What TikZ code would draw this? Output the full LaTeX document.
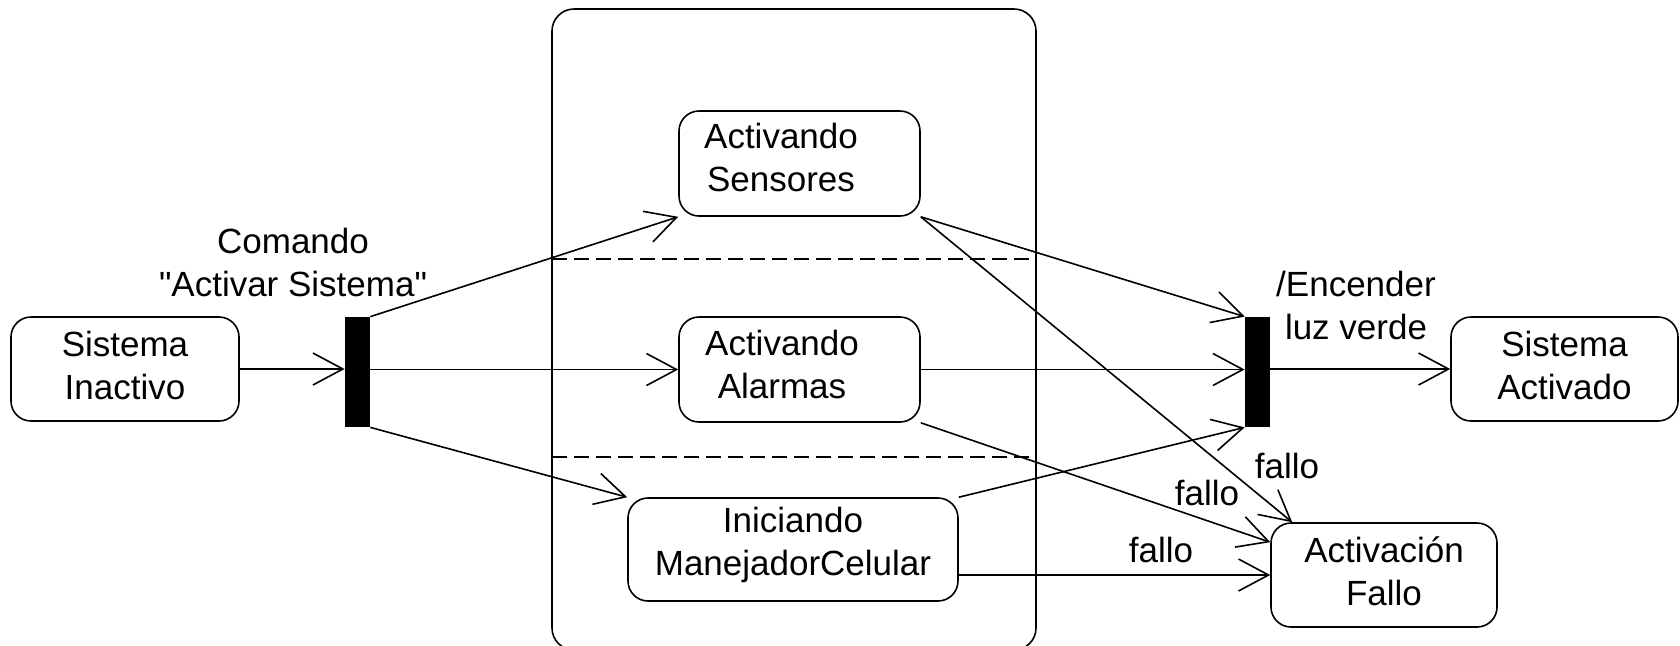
\documentclass[tikz,border=0pt]{standalone}
\usepackage{fontspec}
\setmainfont{Liberation Sans}[Ligatures=TeXOff]
\usetikzlibrary{arrows.meta,calc}
\tikzset{
  base/.style={line width=0.8pt},
  statebox/.style={base, draw, rounded corners=10pt, inner sep=0pt, align=center,
    font=\fontsize{17.5pt}{21.5pt}\selectfont, text depth=4pt},
  emptybox/.style={base, draw, rounded corners=10pt, inner sep=0pt},
  txt/.style={inner sep=0pt, align=center, font=\fontsize{17.5pt}{21.5pt}\selectfont},
  bar/.style={fill=black, draw=none, inner sep=0pt, minimum width=12.5pt, minimum height=55pt},
  arr/.style={base, -{Straight Barb[length=15pt, width=16pt, line width=0.8pt]}},
  sep/.style={base, dash pattern=on 7.5pt off 3.5pt},
}
\begin{document}
\begin{tikzpicture}[x=0.5pt, y=-0.5pt]
\useasboundingbox (0,0) rectangle (1680,645);
% container
\draw[base, rounded corners=11pt] (552,9) rectangle (1036,650);
\draw[sep] (552,259) -- (1032,259);
\draw[sep] (552,457) -- (1032,457);
% states
\node[statebox, minimum width=114pt, minimum height=52pt] (inact) at (125,369) {Sistema\\Inactivo};
\node[emptybox, minimum width=120.5pt, minimum height=52.5pt] (sens) at (799.5,163.5) {};
\node[txt] (sensT) at ($(sens.center)+(-18.5,-6.5)$) {Activando\\Sensores};
\node[emptybox, minimum width=120.5pt, minimum height=52.5pt] (alarm) at (799.5,369.5) {};
\node[txt] (alarmT) at ($(alarm.center)+(-17.5,-5.5)$) {Activando\\Alarmas};
\node[statebox, minimum width=165pt, minimum height=51.5pt, text depth=8pt] (inic) at (793,549.5) {Iniciando\\ManejadorCelular};
\node[statebox, minimum width=113.5pt, minimum height=52pt] (activ) at (1564.5,369) {Sistema\\Activado};
\node[statebox, minimum width=113pt, minimum height=52pt] (fallo) at (1384,575) {Activación\\Fallo};
% bars
\node[bar] (bar1) at (357.5,372) {};
\node[bar] (bar2) at (1257.5,372) {};
% connectors
\draw[arr] (inact.east) -- (inact.east -| bar1.west);
\draw[arr] (bar1.north east) -- (sens.south west);
\draw[arr] (bar1.east |- alarm.west) -- (alarm.west);
\draw[arr] (bar1.south east) -- (inic.north west);
\draw[arr] (sens.south east) -- (bar2.north west);
\draw[arr] (alarm.east) -- (alarm.east -| bar2.west);
\draw[arr] (inic.north east) -- (bar2.south west);
\draw[arr] (bar2.east |- activ.west) -- (activ.west);
\draw[arr] (sens.south east) -- ($(fallo.north west)+(22,0)$);
\draw[arr] (alarm.south east) -- ($(fallo.north west)+(0,20)$);
\draw[arr] (inic.east |- fallo.west) -- (fallo.west);
% labels
\node[txt] (cmd) at (293,262) {Comando\\"Activar Sistema"};
\node[txt] (enc) at (1356,305) {/Encender\\luz verde};
\node[txt] (f1) at (1287,466) {fallo};
\node[txt] (f2) at (1207,493) {fallo};
\node[txt] (f3) at (1161,550) {fallo};
\end{tikzpicture}
\end{document}
